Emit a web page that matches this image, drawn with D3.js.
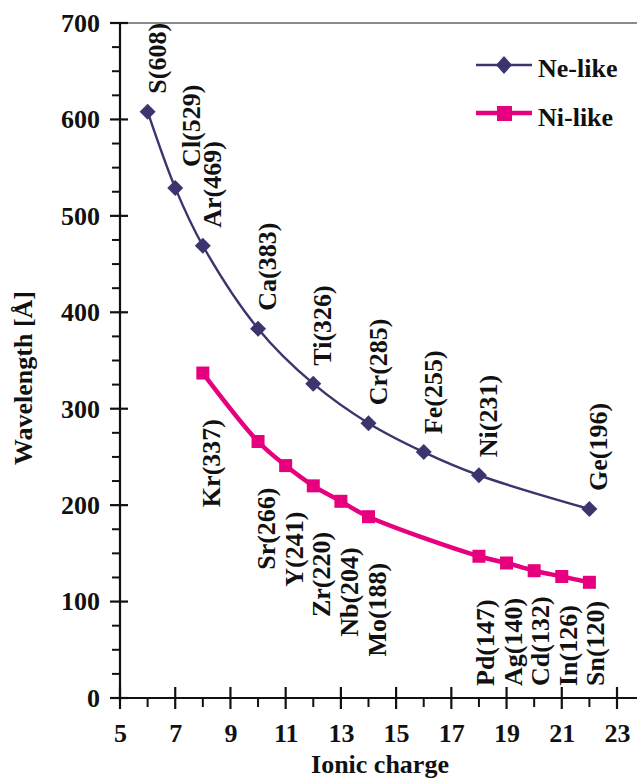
<!DOCTYPE html>
<html>
<head>
<meta charset="utf-8">
<script src="https://cdn.jsdelivr.net/npm/d3@7"></script>
<style>
  html, body { margin: 0; padding: 0; background: #ffffff; }
  svg { display: block; }
  text { font-family: "Liberation Serif", "Times New Roman", serif; font-weight: bold; fill: #111; }
</style>
</head>
<body>
<svg id="chart" width="637" height="781"></svg>
<script>
// ---- data ----
const neCharge = [6, 7, 8, 10, 12, 14, 16, 18, 22];
const neWave   = [608, 529, 469, 383, 326, 285, 255, 231, 196];
const neElem   = ["S", "Cl", "Ar", "Ca", "Ti", "Cr", "Fe", "Ni", "Ge"];

const niCharge = [8, 10, 11, 12, 13, 14, 18, 19, 20, 21, 22];
const niWave   = [337, 266, 241, 220, 204, 188, 147, 140, 132, 126, 120];
const niElem   = ["Kr", "Sr", "Y", "Zr", "Nb", "Mo", "Pd", "Ag", "Cd", "In", "Sn"];

const xTickLabels = [5, 7, 9, 11, 13, 15, 17, 19, 21, 23];
const yTickLabels = [0, 100, 200, 300, 400, 500, 600, 700];
const seriesNames = ["Ne-like", "Ni-like"];
const xTitle = "Ionic charge";
const yTitle = "Wavelength [Å]";

// ---- layout ----
const W = 637;
const pL = 120, pR = 617, pT = 23, pB = 698;
const neColor = "#3b356e", niColor = "#e6007e";
const FS = 26;

const svg = d3.select("#chart");
const x = d3.scaleLinear().domain([5, 23]).range([pL, pR]);
const y = d3.scaleLinear().domain([0, 700]).range([pB, pT]);

// top frame line
svg.append("line").attr("x1", pL).attr("x2", W).attr("y1", y(700)).attr("y2", y(700))
  .attr("stroke", "#8a8a8a").attr("stroke-width", 2);

// y axis
const yAxis = d3.axisLeft(y).tickValues(yTickLabels).tickSize(0).tickPadding(20).tickFormat(d3.format("d"));
const gy = svg.append("g").attr("transform", `translate(${pL},0)`).call(yAxis);
gy.select(".domain").remove();
gy.selectAll("text").style("font-size", FS + "px").style("font-family", "Liberation Serif").style("font-weight", "bold").attr("fill", "#111");
svg.append("line").attr("x1", pL).attr("x2", pL).attr("y1", y(700)).attr("y2", y(0))
  .attr("stroke", "#111").attr("stroke-width", 2.2);
svg.selectAll(".ymaj").data(yTickLabels).join("line")
  .attr("x1", pL - 10).attr("x2", pL + 8)
  .attr("y1", d => y(d)).attr("y2", d => y(d))
  .attr("stroke", "#111").attr("stroke-width", 2.2);
const yMinor = d3.range(25, 700, 25).filter(v => v % 100 !== 0);
svg.selectAll(".ymin").data(yMinor).join("line")
  .attr("x1", pL - 8).attr("x2", pL)
  .attr("y1", d => y(d)).attr("y2", d => y(d))
  .attr("stroke", "#111").attr("stroke-width", 2);

// x axis
const xAxis = d3.axisBottom(x).tickValues(xTickLabels).tickSize(0).tickPadding(26).tickFormat(d3.format("d"));
const gx = svg.append("g").attr("transform", `translate(0,${pB})`).call(xAxis);
gx.select(".domain").remove();
gx.selectAll("text").style("font-size", FS + "px").style("font-family", "Liberation Serif").style("font-weight", "bold").attr("fill", "#111");
svg.append("line").attr("x1", pL).attr("x2", W).attr("y1", pB).attr("y2", pB)
  .attr("stroke", "#111").attr("stroke-width", 2.2);
svg.selectAll(".xmaj").data(xTickLabels).join("line")
  .attr("x1", d => x(d)).attr("x2", d => x(d))
  .attr("y1", pB - 11).attr("y2", pB + 11)
  .attr("stroke", "#111").attr("stroke-width", 2.2);
const xMinor = d3.range(6, 23, 2);
svg.selectAll(".xmin").data(xMinor).join("line")
  .attr("x1", d => x(d)).attr("x2", d => x(d))
  .attr("y1", pB).attr("y2", pB + 9)
  .attr("stroke", "#111").attr("stroke-width", 2);

// axis titles
svg.append("text").attr("x", 380).attr("y", 773).attr("text-anchor", "middle")
  .style("font-size", FS + "px").text(xTitle);
svg.append("text").attr("transform", "translate(32,378) rotate(-90)").attr("text-anchor", "middle")
  .style("font-size", FS + "px").text(yTitle);

// ---- series ----
const neData = neCharge.map((c, i) => ({ c, v: neWave[i], e: neElem[i] }));
const niData = niCharge.map((c, i) => ({ c, v: niWave[i], e: niElem[i] }));
const line = d3.line().x(d => x(d.c)).y(d => y(d.v)).curve(d3.curveCatmullRom.alpha(0.5));

svg.append("path").attr("d", line(neData)).attr("fill", "none")
  .attr("stroke", neColor).attr("stroke-width", 2.4);
svg.append("path").attr("d", line(niData)).attr("fill", "none")
  .attr("stroke", niColor).attr("stroke-width", 4.5);

const dia = 8;
svg.selectAll(".nept").data(neData).join("path")
  .attr("d", d => `M${x(d.c)},${y(d.v) - dia}L${x(d.c) + dia},${y(d.v)}L${x(d.c)},${y(d.v) + dia}L${x(d.c) - dia},${y(d.v)}Z`)
  .attr("fill", neColor);
const sq = 13;
svg.selectAll(".nipt").data(niData).join("rect")
  .attr("x", d => x(d.c) - sq / 2).attr("y", d => y(d.v) - sq / 2)
  .attr("width", sq).attr("height", sq).attr("fill", niColor);

// ---- point labels (rotated) ----
const lab = (d) => `${d.e}(${d.v})`;
svg.selectAll(".nelab").data(neData).join("text")
  .attr("transform", d => `translate(${x(d.c) + 18 + (d.e === "Cl" ? 7 : 0)},${y(d.v) - 18 - (d.e === "Cl" ? 3 : 0)}) rotate(-90)`)
  .attr("text-anchor", "start").style("font-size", FS + "px").text(lab);
svg.selectAll(".nilab").data(niData).join("text")
  .attr("transform", d => d.c <= 14
     ? `translate(${x(d.c) + 17},${y(d.v) + 46}) rotate(-90)`
     : `translate(${x(d.c) + 15},${y(0) - 12}) rotate(-90)`)
  .attr("text-anchor", d => d.c <= 14 ? "end" : "start")
  .style("font-size", FS + "px").text(lab);

// ---- legend ----
const lg = svg.append("g");
lg.append("line").attr("x1", 476).attr("x2", 532).attr("y1", 65).attr("y2", 65)
  .attr("stroke", neColor).attr("stroke-width", 2.4);
lg.append("path").attr("d", "M504,56L512,65L504,74L496,65Z").attr("fill", neColor);
lg.append("text").attr("x", 538).attr("y", 77).style("font-size", FS + "px").text(seriesNames[0]);
lg.append("line").attr("x1", 476).attr("x2", 532).attr("y1", 113).attr("y2", 113)
  .attr("stroke", niColor).attr("stroke-width", 4.5);
lg.append("rect").attr("x", 497).attr("y", 106).attr("width", 15).attr("height", 15).attr("fill", niColor);
lg.append("text").attr("x", 538).attr("y", 126).style("font-size", FS + "px").text(seriesNames[1]);
</script>
</body>
</html>
